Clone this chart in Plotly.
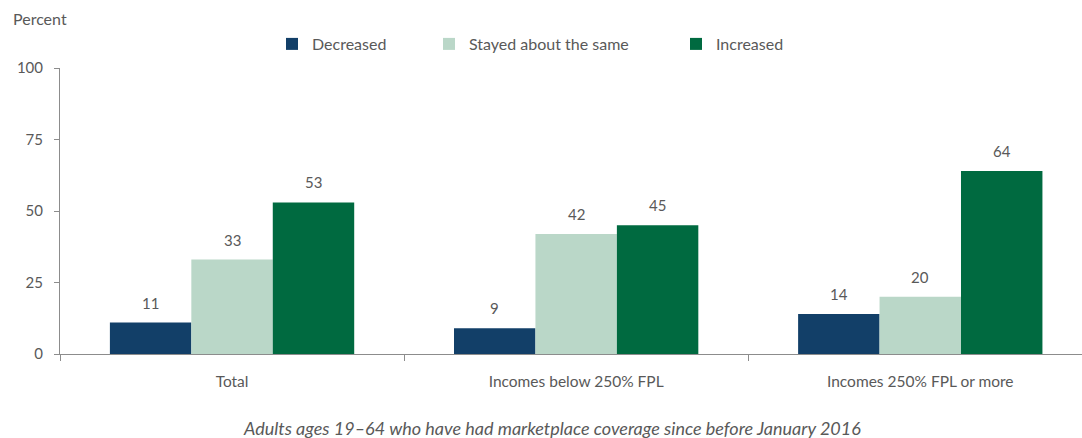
import plotly.graph_objects as go

# Share of adults whose premiums changed, by income group
categories = ["Total", "Incomes below 250% FPL", "Incomes 250% FPL or more"]
series_names = ["Decreased", "Stayed about the same", "Increased"]
decreased = [11, 9, 14]
stayed_same = [33, 42, 20]
increased = [53, 45, 64]
y_ticks = [0, 25, 50, 75, 100]

colors = ["#123F68", "#BAD7C8", "#006A40"]
text_gray = "#595959"
axis_gray = "#8C8C8C"
font_family = "Lato, 'Open Sans', sans-serif"

# Geometry used to place value labels over each bar in a group
fig_w, fig_h = 1082, 438
margin = dict(l=60, r=0, t=68, b=84)
x_range = [-0.5, 2.47]
bargap = 0.29
plot_w = fig_w - margin["l"] - margin["r"]
plot_h = fig_h - margin["t"] - margin["b"]
px_per_cat = plot_w / (x_range[1] - x_range[0])
bar_px = px_per_cat * (1 - bargap) / len(series_names)

all_series = [decreased, stayed_same, increased]

fig = go.Figure()
legend_ids = ["legend", "legend2", "legend3"]
for name, vals, color, lg in zip(series_names, all_series, colors, legend_ids):
    fig.add_trace(go.Bar(
        x=categories,
        y=vals,
        name=name,
        marker=dict(color=color, line=dict(width=0)),
        legend=lg,
        hoverinfo="skip",
    ))

# Value labels sitting above each bar
value_labels = []
for i, vals in enumerate(all_series):
    offset = (i - (len(all_series) - 1) / 2) * bar_px
    for cat, v in zip(categories, vals):
        value_labels.append(dict(
            x=cat, y=v, xref="x", yref="y",
            text=str(v),
            xshift=offset, yshift=20,
            xanchor="center", yanchor="middle",
            showarrow=False,
            font=dict(size=15, color=text_gray, family=font_family),
        ))

legend_common = dict(
    orientation="h",
    yanchor="middle",
    y=1 + 24 / plot_h,
    xanchor="left",
    bgcolor="rgba(0,0,0,0)",
    font=dict(size=16, color=text_gray, family=font_family),
    itemwidth=30,
)

fig.update_layout(
    width=fig_w,
    height=fig_h,
    margin=margin,
    paper_bgcolor="white",
    plot_bgcolor="white",
    barmode="group",
    bargap=bargap,
    bargroupgap=0,
    showlegend=True,
    legend=dict(x=(272 - 60) / plot_w, **legend_common),
    legend2=dict(x=(429 - 60) / plot_w, **legend_common),
    legend3=dict(x=(676 - 60) / plot_w, **legend_common),
    font=dict(family=font_family, color=text_gray, size=15),
    xaxis=dict(
        range=x_range,
        showline=True,
        linecolor=axis_gray,
        linewidth=1,
        ticks="outside",
        tickson="boundaries",
        ticklen=6,
        tickcolor=axis_gray,
        tickfont=dict(size=15.5, color=text_gray, family=font_family),
        ticklabelstandoff=13,
        showgrid=False,
        zeroline=False,
    ),
    yaxis=dict(
        range=[0, 100],
        tickvals=y_ticks,
        showline=True,
        linecolor=axis_gray,
        linewidth=1,
        ticks="outside",
        ticklen=5,
        tickcolor=axis_gray,
        tickfont=dict(size=15, color=text_gray, family=font_family),
        ticklabelstandoff=8,
        showgrid=False,
        zeroline=False,
    ),
    annotations=value_labels + [
        dict(
            text="Percent",
            xref="paper", yref="paper",
            x=(11 - 60) / plot_w, y=1 + (68 - 18) / plot_h,
            xanchor="left", yanchor="middle",
            showarrow=False,
            font=dict(size=16, color=text_gray, family=font_family),
        ),
        dict(
            text="<i>Adults ages 19–64 who have had marketplace coverage since before January 2016</i>",
            xref="paper", yref="paper",
            x=(552 - 60) / plot_w, y=-(428 - 354) / plot_h,
            xanchor="center", yanchor="middle",
            showarrow=False,
            font=dict(size=18, color=text_gray, family=font_family),
        ),
    ],
)

fig.write_html("out.html")
